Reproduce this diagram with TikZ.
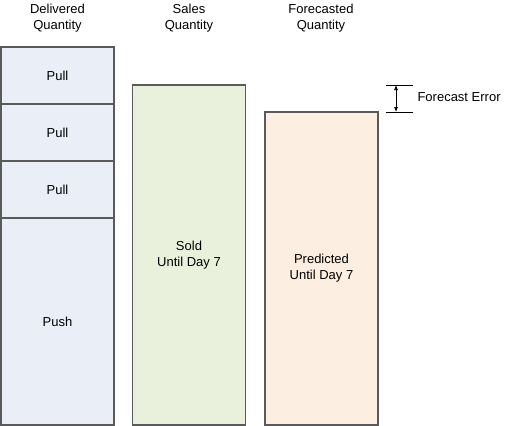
\documentclass[tikz,border=0pt]{standalone}
\usepackage{fontspec}
\setmainfont{Liberation Sans}
\usetikzlibrary{arrows.meta}
\definecolor{deliverfill}{RGB}{233,238,247}
\definecolor{salesfill}{RGB}{233,241,220}
\definecolor{forecastfill}{RGB}{253,238,226}
\definecolor{edgegray}{RGB}{90,90,90}
\begin{document}
\begin{tikzpicture}[>={Latex[length=5pt,width=4pt]},x=1pt,y=-1pt,
        every node/.style={font=\fontsize{13}{16}\selectfont,align=center},
        bar/.style={draw=edgegray,line width=1.2pt,inner sep=0pt,minimum width=113pt},
        errline/.style={line width=0.7pt}]
        \useasboundingbox (0,0) rectangle (507,426);
        % column headings
        \node (hdeliver) at (57.5,18.5){Delivered\\Quantity};
        \node (hsales) at (189,18.5){Sales\\Quantity};
        \node (hforecast) at (321,18.5){Forecasted\\Quantity};
        % delivered column
        \node[bar,fill=deliverfill,minimum height=57pt] (pull1) at (57.5,75.5){Pull};
        \node[bar,fill=deliverfill,minimum height=57pt] (pull2) at (57.5,132.5){Pull};
        \node[bar,fill=deliverfill,minimum height=57pt] (pull3) at (57.5,189.5){Pull};
        \node[bar,fill=deliverfill,minimum height=207pt] (push) at (57.5,321.5){Push};
        % sales and forecast columns
        \node[bar,fill=salesfill,minimum height=340pt] (sold) at (189,255){Sold\\Until Day 7};
        \node[bar,fill=forecastfill,minimum height=313pt] (predicted) at (321.5,268.5){Predicted\\Until Day 7};
        % forecast error
        \coordinate (errtop) at (386,85);
        \coordinate (errbot) at (386,112);
        \draw[errline] (errtop) -- ++(27,0);
        \draw[errline] (errbot) -- ++(27,0);
        \draw[errline,<->] ([xshift=10pt]errtop) -- ([xshift=10pt]errbot);
        \node[anchor=west] (errlabel) at (414,97){Forecast Error};
\end{tikzpicture}
\end{document}
